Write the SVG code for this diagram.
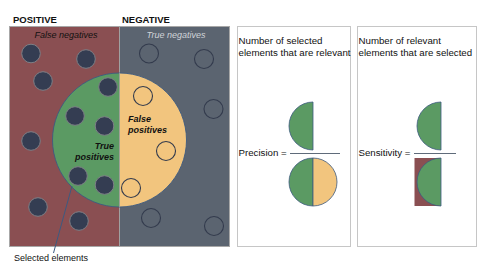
<svg xmlns="http://www.w3.org/2000/svg" width="484" height="273" viewBox="0 0 484 273">
<style>
.t{font-family:"Liberation Sans",Arial,sans-serif;font-size:9px;fill:#111}
.h{font-weight:bold;font-size:9.5px}
.i{font-style:italic}
.bi{font-style:italic;font-weight:bold}
.c{font-family:"Liberation Sans",Arial,sans-serif;font-size:9.7px;fill:#111}
.dot{fill:#343d52;stroke:#7d7f86;stroke-width:1}
.ring{fill:none;stroke:#333b4d;stroke-width:1.1}
.panel{fill:#fff;stroke:#c6c6c6;stroke-width:1}
.g{fill:#5b9a63;stroke:#3d5a80;stroke-width:0.8}
.y{fill:#f2c57e;stroke:#3d5a80;stroke-width:0.8}
.r{fill:#8a4f52}
</style>
<rect width="484" height="273" fill="#fff"/>
<g id="venn">
<rect x="9.5" y="26.5" width="110" height="220" fill="#8a4f52"/>
<rect x="119.5" y="26.5" width="110" height="220" fill="#5b6470"/>
<rect x="9.5" y="26.5" width="220" height="220" fill="none" stroke="#a7a7a7" stroke-width="1"/>
<line x1="119.5" y1="26.5" x2="119.5" y2="246.5" stroke="#a0a0a0" stroke-width="1"/>
<path d="M119.5,73 A67,67 0 0 0 119.5,207 Z" fill="#5b9a63"/>
<path d="M119.5,73 A67,67 0 0 1 119.5,207 Z" fill="#f2c57e"/>
<circle cx="119.5" cy="140" r="67" fill="none" stroke="#3d5a80" stroke-width="0.9"/>
<line x1="119.5" y1="73" x2="119.5" y2="207" stroke="#9a9a9a" stroke-width="0.8"/>
<text class="t h" x="13" y="23">POSITIVE</text>
<text class="t h" x="122" y="23">NEGATIVE</text>
<text class="t i" x="66" y="38" text-anchor="middle">False negatives</text>
<text class="t i" x="176" y="38" text-anchor="middle" style="fill:#d0d3d8">True negatives</text>
<text class="t bi" x="128" y="122">False</text>
<text class="t bi" x="128" y="133">positives</text>
<text class="t bi" x="114" y="149" text-anchor="end">True</text>
<text class="t bi" x="114" y="160" text-anchor="end">positives</text>
</g>
<g id="dots">
<circle class="dot" cx="31" cy="53.5" r="9.3"/>
<circle class="dot" cx="86" cy="59" r="9.3"/>
<circle class="dot" cx="43" cy="81" r="9.3"/>
<circle class="dot" cx="108" cy="87" r="9.3"/>
<circle class="dot" cx="75" cy="116" r="9.3"/>
<circle class="dot" cx="104.5" cy="126" r="9.3"/>
<circle class="dot" cx="31" cy="141" r="9.3"/>
<circle class="dot" cx="78" cy="176" r="9.3"/>
<circle class="dot" cx="104.5" cy="185" r="9.3"/>
<circle class="dot" cx="38" cy="207" r="9.3"/>
<circle class="dot" cx="79" cy="221" r="9.3"/>
<circle class="ring" cx="149" cy="53.5" r="9.5"/>
<circle class="ring" cx="204" cy="59" r="9.5"/>
<circle class="ring" cx="143" cy="96" r="9.5"/>
<circle class="ring" cx="213.5" cy="109" r="9.5"/>
<circle class="ring" cx="166" cy="151" r="9.5"/>
<circle class="ring" cx="131" cy="188" r="9.5"/>
<circle class="ring" cx="151" cy="218" r="9.5"/>
<circle class="ring" cx="214" cy="226" r="9.5"/>
</g>
<g id="connectors">
<line x1="72" y1="186" x2="53.5" y2="253" stroke="#3d5a80" stroke-width="1"/>
</g>
<g id="selected-label">
<text class="t" x="14" y="261">Selected elements</text>
</g>
<g id="precision">
<rect class="panel" x="237.5" y="26.5" width="113" height="220"/>
<text class="c" x="238.5" y="43.5">Number of selected</text>
<text class="c" x="238.5" y="56">elements that are relevant</text>
<text class="c" x="238.5" y="156">Precision =</text>
<path class="g" d="M313,102 A24,24 0 0 0 313,150 Z"/>
<line x1="290" y1="153.5" x2="340" y2="153.5" stroke="#5f6b7a" stroke-width="1.2"/>
<path class="g" d="M313,158 A24,24 0 0 0 313,206 Z"/>
<path class="y" d="M313,158 A24,24 0 0 1 313,206 Z"/>
</g>
<g id="sensitivity">
<rect class="panel" x="357.5" y="26.5" width="119" height="220"/>
<text class="c" x="358.5" y="43.5">Number of relevant</text>
<text class="c" x="358.5" y="56">elements that are selected</text>
<text class="c" x="358.5" y="156">Sensitivity =</text>
<path class="g" d="M441,102 A24,24 0 0 0 441,150 Z"/>
<line x1="414" y1="153.5" x2="456" y2="153.5" stroke="#5f6b7a" stroke-width="1.2"/>
<rect class="r" x="414.5" y="158" width="26.5" height="48"/>
<path class="g" d="M441,158 A24,24 0 0 0 441,206 Z"/>
</g>
</svg>
